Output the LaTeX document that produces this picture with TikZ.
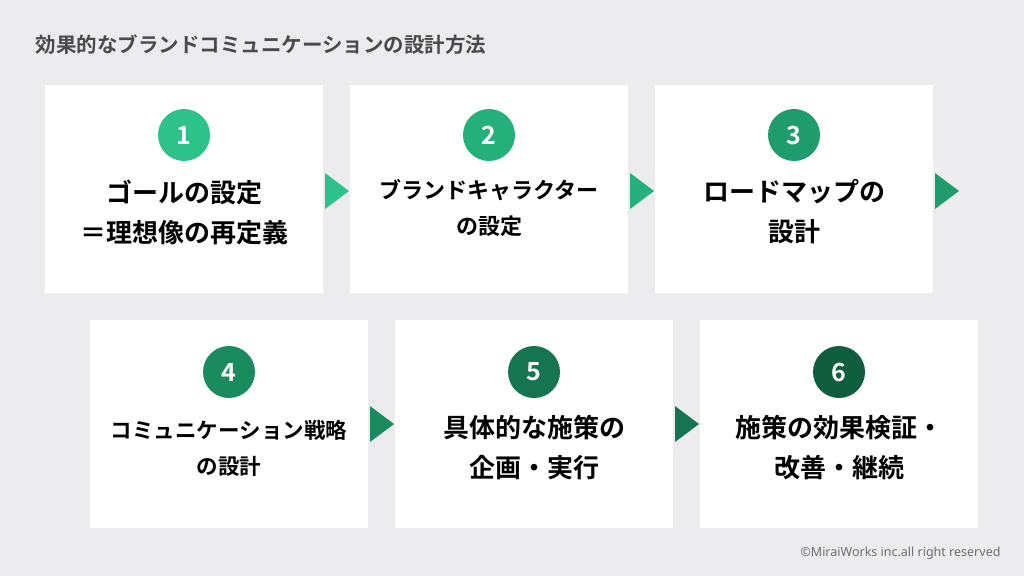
\documentclass[tikz,border=0pt]{standalone}
\usepackage{fontspec}
\newfontfamily\jp{Noto Sans CJK JP}[BoldFont={Noto Sans CJK JP Bold}]
\newfontfamily\ns{Noto Sans}
\definecolor{bg}{HTML}{ECECEE}
\definecolor{tg}{HTML}{4A4A4A}
\definecolor{c1}{HTML}{2EC28B}
\definecolor{c2}{HTML}{24B07B}
\definecolor{c3}{HTML}{1E9C6C}
\definecolor{c4}{HTML}{1A8A5F}
\definecolor{c5}{HTML}{157551}
\definecolor{c6}{HTML}{0F5F3F}
\begin{document}
\begin{tikzpicture}[x=1pt,y=-1pt,
 card/.style={fill=white,draw=none,minimum width=278pt,minimum height=208pt,anchor=north west},
 num/.style={circle,minimum size=52pt,inner sep=0pt,text=white,font=\jp\bfseries\fontsize{25}{25}\selectfont},
 lbl/.style={align=center,font=\jp\bfseries\fontsize{26}{40}\selectfont,text=black}]
\fill[bg] (0,0) rectangle (1024,576);
\useasboundingbox (0,0) rectangle (1024,576);
\node[anchor=west,text=tg,font=\jp\bfseries\fontsize{20.5}{20}\selectfont] (title) at (32,45) {効果的なブランドコミュニケーションの設計方法};
\node[card] (b1) at (45,85) {};
\node[card] (b2) at (350,85) {};
\node[card] (b3) at (655,85) {};
\node[card] (b4) at (90,320) {};
\node[card] (b5) at (395,320) {};
\node[card] (b6) at (700,320) {};
\node[num,fill=c1] (n1) at (184,135) {1};
\node[num,fill=c2] (n2) at (489,135) {2};
\node[num,fill=c3] (n3) at (794,135) {3};
\node[num,fill=c4] (n4) at (229,372) {4};
\node[num,fill=c5] (n5) at (534,372) {5};
\node[num,fill=c6] (n6) at (839,372) {6};
\node[lbl] (t1) at (184,212) {ゴールの設定\\＝理想像の再定義};
\node[lbl,font=\jp\bfseries\fontsize{22}{36}\selectfont] (t2) at (489,208) {ブランドキャラクター\\の設定};
\node[lbl] (t3) at (794,212) {ロードマップの\\設計};
\node[lbl,font=\jp\bfseries\fontsize{21.5}{36}\selectfont] (t4) at (229,448) {コミュニケーション戦略\\の設計};
\node[lbl] (t5) at (534,448) {具体的な施策の\\企画・実行};
\node[lbl] (t6) at (839,448) {施策の効果検証・\\改善・継続};
\fill[c1] (325,173) -- (349,191) -- (325,209) -- cycle;
\fill[c2] (630,173) -- (654,191) -- (630,209) -- cycle;
\fill[c3] (935,173) -- (959,191) -- (935,209) -- cycle;
\fill[c4] (370,406) -- (394,424) -- (370,442) -- cycle;
\fill[c5] (675,406) -- (699,424) -- (675,442) -- cycle;
\node[anchor=east,text=tg!80,font=\ns\fontsize{12.5}{13}\selectfont] (cr) at (1004,553) {©MiraiWorks inc.all right reserved};
\end{tikzpicture}
\end{document}
